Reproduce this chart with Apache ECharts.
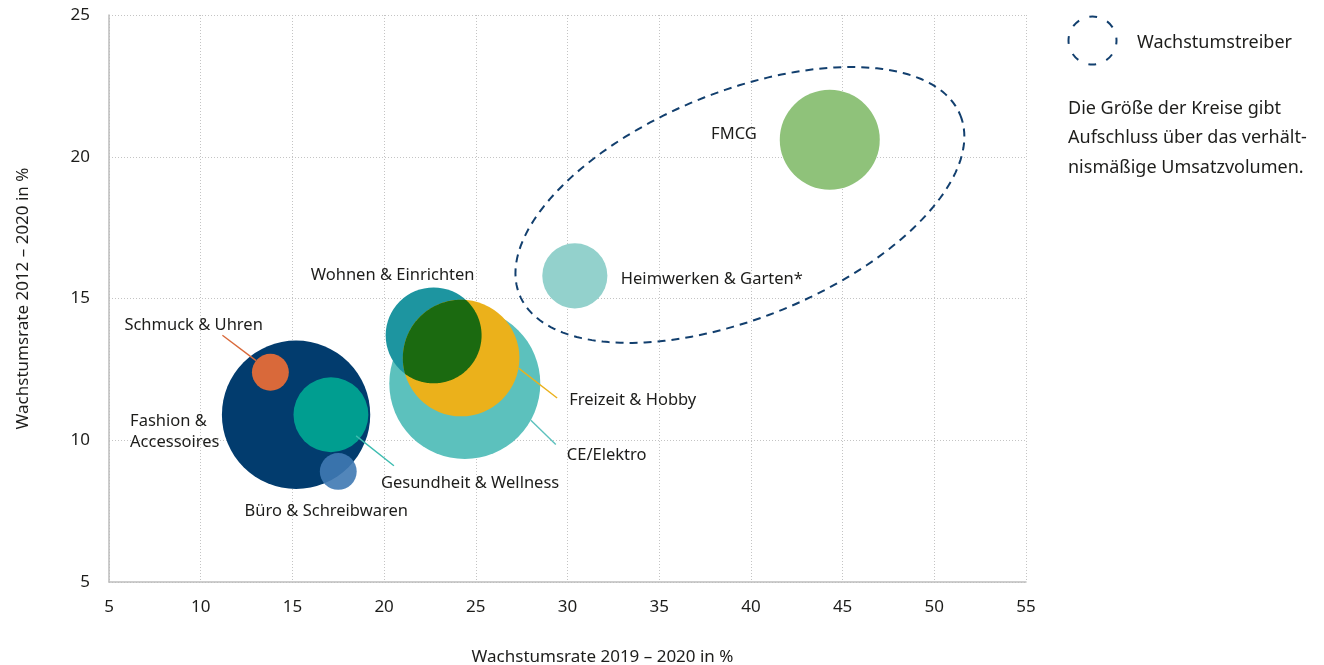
<!DOCTYPE html>
<html>
<head>
<meta charset="utf-8">
<script src="https://cdn.jsdelivr.net/npm/echarts@6/dist/echarts.min.js"></script>
<style>
html, body { margin: 0; padding: 0; background: #fff; }
#chart { width: 1324px; height: 665px; }
</style>
</head>
<body>
<div id="chart"></div>
<script>
var categories = ['Fashion & Accessoires', 'Schmuck & Uhren', 'Gesundheit & Wellness', 'Büro & Schreibwaren',
    'CE/Elektro', 'Wohnen & Einrichten', 'Freizeit & Hobby', 'Heimwerken & Garten*', 'FMCG'];
var labelTexts = ['Fashion &\nAccessoires', 'Schmuck & Uhren', 'Gesundheit & Wellness', 'Büro & Schreibwaren',
    'CE/Elektro', 'Wohnen & Einrichten', 'Freizeit & Hobby', 'Heimwerken & Garten*', 'FMCG'];
// Wachstumsrate 2019-2020 (x) und 2012-2020 (y), relatives Umsatzvolumen (Kreisfläche)
var growth19_20 = [15.2, 13.8, 17.1, 17.5, 24.4, 22.7, 24.2, 30.4, 44.3];
var growth12_20 = [10.9, 12.4, 10.9, 8.9, 12.0, 13.7, 12.9, 15.8, 20.6];
var volume = [55, 3.4, 14, 3.4, 57, 23, 34, 10.6, 25];

var colors = ['#023c6e', '#d9693a', '#009e90', '#3f79b3', '#5cc1bd', '#1d95a0', '#ebb11b', '#93d1cc', '#8fc27a'];
var opacities = [1, 1, 1, 0.9, 1, 1, 1, 1, 1];
var lensColor = '#1b6a10';
var navy = '#123f6e';
var textColor = '#1d1d1b';
var fontFamily = '"Noto Sans", sans-serif';

// Wachstumstreiber-Ellipse (Mittelpunkt in Datenkoordinaten)
var driverCenter = [39.4, 18.3];

// Beschriftungen relativ zum Kreismittelpunkt (px)
var placement = {
    'Fashion & Accessoires': {dx: -166, dy: 17, align: 'left'},
    'Schmuck & Uhren': {dx: -146, dy: -47, align: 'left', angle: 219, end: [-48, -37], line: '#d9693a'},
    'Gesundheit & Wellness': {dx: 50, dy: 69, align: 'left', angle: 40, end: [63, 51], line: '#3cbcb0', inset: 0.88},
    'Büro & Schreibwaren': {dx: -12, dy: 40, align: 'center'},
    'CE/Elektro': {dx: 102, dy: 72, align: 'left', angle: 29, end: [91, 61], line: '#5cc1bd'},
    'Wohnen & Einrichten': {dx: -41, dy: -60, align: 'center'},
    'Freizeit & Hobby': {dx: 108, dy: 42, align: 'left', angle: 10, end: [96, 40], line: '#ebb11b'},
    'Heimwerken & Garten*': {dx: 46, dy: 3, align: 'left'},
    'FMCG': {dx: -73, dy: -5, align: 'right'}
};

function radius(v) {
    return Math.sqrt(v) * 10;
}

function lensPoints(c1, r1, c2, r2) {
    var pts = [];
    var n = 240;
    for (var k = 0; k < n; k++) {
        var t = k / n * Math.PI * 2;
        var p = [c1[0] + r1 * Math.cos(t), c1[1] + r1 * Math.sin(t)];
        if (Math.hypot(p[0] - c2[0], p[1] - c2[1]) <= r2) pts.push(p);
        var q = [c2[0] + r2 * Math.cos(t), c2[1] + r2 * Math.sin(t)];
        if (Math.hypot(q[0] - c1[0], q[1] - c1[1]) <= r1) pts.push(q);
    }
    var mx = 0, my = 0;
    for (var i = 0; i < pts.length; i++) { mx += pts[i][0]; my += pts[i][1]; }
    mx /= pts.length; my /= pts.length;
    pts.sort(function (a, b) {
        return Math.atan2(a[1] - my, a[0] - mx) - Math.atan2(b[1] - my, b[0] - mx);
    });
    return pts;
}

var bubbleData = [];
for (var i = 0; i < categories.length; i++) {
    bubbleData.push({
        name: categories[i],
        value: [growth19_20[i], growth12_20[i], volume[i]],
        itemStyle: {color: colors[i], opacity: opacities[i]}
    });
}

var iW = categories.indexOf('Wohnen & Einrichten');
var iF = categories.indexOf('Freizeit & Hobby');

var myChart = echarts.init(document.getElementById('chart'));

var option = {
    animation: false,
    textStyle: {fontFamily: fontFamily},
    grid: {left: 109, right: 298, top: 15, bottom: 83, containLabel: false, outerBoundsMode: 'none'},
    xAxis: {
        type: 'value', min: 5, max: 55, interval: 5,
        name: 'Wachstumsrate 2019 – 2020 in %',
        nameLocation: 'middle', nameGap: 67,
        nameTextStyle: {fontSize: 17, color: textColor, padding: [0, 0, 0, 70]},
        axisLine: {show: true, onZero: false, lineStyle: {color: '#bdbdbd', width: 1.5}},
        axisTick: {show: false},
        axisLabel: {fontSize: 17, color: textColor, margin: 17},
        splitLine: {show: true, lineStyle: {type: [1, 2], color: '#c4c4c4'}}
    },
    yAxis: {
        type: 'value', min: 5, max: 25, interval: 5,
        name: 'Wachstumsrate 2012 – 2020 in %',
        nameLocation: 'middle', nameGap: 77,
        nameTextStyle: {fontSize: 17, color: textColor},
        axisLine: {show: true, onZero: false, lineStyle: {color: '#bdbdbd', width: 1.5}},
        axisTick: {show: false},
        axisLabel: {fontSize: 17, color: textColor, margin: 19},
        splitLine: {show: true, lineStyle: {type: [1, 2], color: '#c4c4c4'}}
    },
    series: [
        {
            type: 'scatter',
            z: 2,
            data: bubbleData,
            symbolSize: function (val) { return radius(val[2]) * 2; },
            emphasis: {disabled: true},
            silent: true
        },
        {
            // Schnittmenge Wohnen / Freizeit
            type: 'custom',
            z: 3,
            silent: true,
            data: [[growth19_20[iW], growth12_20[iW], volume[iW], growth19_20[iF], growth12_20[iF], volume[iF]]],
            renderItem: function (params, api) {
                var c1 = api.coord([api.value(0), api.value(1)]);
                var c2 = api.coord([api.value(3), api.value(4)]);
                return {
                    type: 'polygon',
                    shape: {points: lensPoints(c1, radius(api.value(2)), c2, radius(api.value(5)))},
                    style: {fill: lensColor}
                };
            }
        },
        {
            // Beschriftungen mit Hinweislinien
            type: 'custom',
            z: 4,
            silent: true,
            data: categories.map(function (c, i) { return [growth19_20[i], growth12_20[i], volume[i]]; }),
            renderItem: function (params, api) {
                var i = params.dataIndex;
                var c = api.coord([api.value(0), api.value(1)]);
                var r = radius(api.value(2));
                var p = placement[categories[i]];
                var children = [{
                    type: 'text',
                    style: {
                        x: c[0] + p.dx, y: c[1] + p.dy,
                        text: labelTexts[i],
                        fill: textColor,
                        font: '16.5px ' + fontFamily,
                        lineHeight: 21,
                        align: p.align, verticalAlign: 'middle'
                    }
                }];
                if (p.angle != null) {
                    var a = p.angle * Math.PI / 180;
                    var rr = r * (p.inset || 1);
                    children.push({
                        type: 'line',
                        shape: {
                            x1: c[0] + rr * Math.cos(a), y1: c[1] + rr * Math.sin(a),
                            x2: c[0] + p.end[0], y2: c[1] + p.end[1]
                        },
                        style: {stroke: p.line, lineWidth: 1.4}
                    });
                }
                return {type: 'group', children: children};
            }
        },
        {
            // Wachstumstreiber
            type: 'custom',
            z: 4,
            silent: true,
            data: [driverCenter],
            renderItem: function (params, api) {
                var c = api.coord([api.value(0), api.value(1)]);
                var a = 238, b = 113, th = -22.2 * Math.PI / 180;
                var pts = [];
                for (var k = 0; k < 200; k++) {
                    var t = k / 200 * Math.PI * 2;
                    pts.push([
                        c[0] + a * Math.cos(t) * Math.cos(th) - b * Math.sin(t) * Math.sin(th),
                        c[1] + a * Math.cos(t) * Math.sin(th) + b * Math.sin(t) * Math.cos(th)
                    ]);
                }
                return {
                    type: 'polygon',
                    shape: {points: pts},
                    style: {fill: 'none', stroke: navy, lineWidth: 2, lineDash: [8, 6]}
                };
            }
        }
    ],
    graphic: [
        {
            type: 'circle', left: 1066, top: 14,
            shape: {r: 24},
            style: {fill: 'none', stroke: navy, lineWidth: 2, lineDash: [8, 10.85], lineDashOffset: 4}
        },
        {
            type: 'text', left: 1137, top: 34,
            style: {text: 'Wachstumstreiber', fill: textColor, font: '18px ' + fontFamily}
        },
        {
            type: 'text', left: 1068, top: 94,
            style: {
                text: 'Die Größe der Kreise gibt\nAufschluss über das verhält-\nnismäßige Umsatzvolumen.',
                fill: textColor, font: '18px ' + fontFamily, lineHeight: 29.5
            }
        }
    ]
};

myChart.setOption(option);
</script>
</body>
</html>
